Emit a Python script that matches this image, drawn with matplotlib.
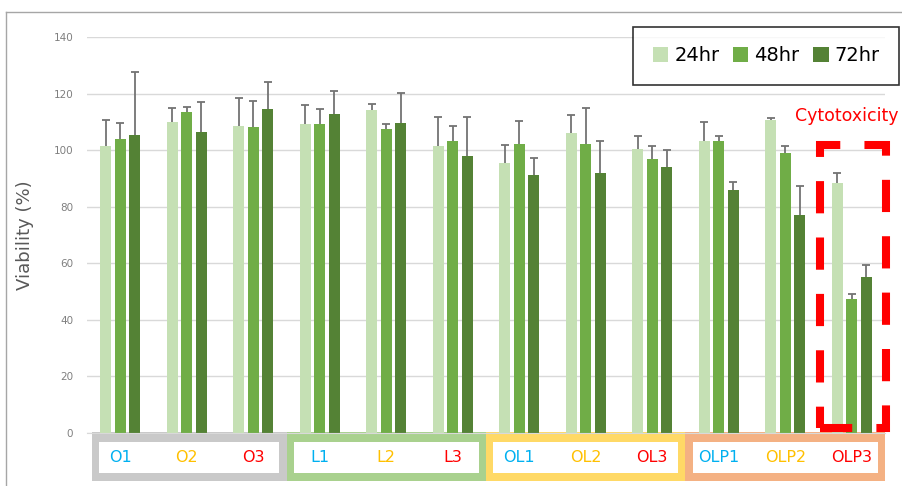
import numpy as np
import matplotlib.pyplot as plt
from matplotlib.patches import Rectangle
from matplotlib.lines import Line2D
import matplotlib.transforms as mtransforms

groups = ['O1', 'O2', 'O3', 'L1', 'L2', 'L3', 'OL1', 'OL2', 'OL3', 'OLP1', 'OLP2', 'OLP3']
label_colors = ['#00B0F0', '#FFC000', '#FF0000'] * 4
series = ['24hr', '48hr', '72hr']

v24 = [101.6, 109.8, 108.5, 109.2, 114.1, 101.6, 95.4, 106.2, 100.4, 103.3, 110.6, 88.4]
v48 = [104.0, 113.4, 108.2, 109.2, 107.6, 103.2, 102.0, 102.0, 97.0, 103.1, 99.0, 47.3]
v72 = [105.3, 106.5, 114.6, 112.8, 109.7, 98.0, 91.1, 92.0, 94.0, 86.0, 77.1, 55.3]

e24 = [9.2, 5.2, 9.8, 6.9, 2.1, 10.2, 6.3, 6.3, 4.7, 6.5, 0.6, 3.6]
e48 = [5.5, 2.0, 9.3, 5.3, 1.5, 5.3, 8.2, 13.0, 4.6, 1.9, 2.3, 1.9]
e72 = [22.3, 10.6, 9.6, 8.0, 10.5, 13.7, 6.2, 11.1, 5.9, 2.8, 10.2, 4.2]

box_colors = ['#C9C9C9', '#A9D18E', '#FFD966', '#F4B183']
bar_colors = ['#C5E0B4', '#70AD47', '#548235']

fig = plt.figure(figsize=(9.02, 4.86), dpi=100)
ax = fig.add_axes([87 / 902, 1 - 433 / 486, 798 / 902, 396 / 486])

x = np.arange(len(groups))
w = 0.17
step = 0.218
for i, (vals, errs) in enumerate(zip([v24, v48, v72], [e24, e48, e72])):
    pos = x + (i - 1) * step
    ax.bar(pos, vals, width=w, color=bar_colors[i], label=series[i], zorder=2)
    eb = ax.errorbar(pos, vals, yerr=[np.zeros(len(errs)), errs], fmt='none',
                     ecolor='#737373', elinewidth=1.3, capsize=3, capthick=1.3, zorder=3)
    eb[1][0].set_visible(False)  # only the upper cap

ax.set_xlim(-0.5, len(groups) - 0.5)
ax.set_ylim(0, 140)
ax.set_yticks(range(0, 141, 20))
ax.yaxis.grid(True, color='#D9D9D9', lw=1)
ax.set_axisbelow(True)
ax.set_xticks([])
for s in ['top', 'right', 'left']:
    ax.spines[s].set_visible(False)
ax.spines['bottom'].set_color('#D9D9D9')
ax.tick_params(axis='y', length=0, labelsize=7.5, labelcolor='#7F7F7F', pad=10)
ax.set_ylabel('Viability (%)', fontsize=13, color='#595959', labelpad=14)

# group label boxes under the axis
trans = mtransforms.blended_transform_factory(ax.transData, ax.transAxes)
for k in range(4):
    x0 = 3 * k - 0.5 + (0.07 if k == 0 else 0)
    x1 = 3 * k + 2.5
    ax.add_patch(Rectangle((x0, -0.121), x1 - x0, 0.123, transform=trans,
                           facecolor=box_colors[k], edgecolor='none', clip_on=False))
    ax.add_patch(Rectangle((x0 + 0.11, -0.101), x1 - x0 - 0.22, 0.078, transform=trans,
                           facecolor='white', edgecolor='none', clip_on=False))
for i, g in enumerate(groups):
    ax.text(i, -0.062, g, transform=trans, ha='center', va='center',
            fontsize=11.5, color=label_colors[i])

# cytotoxicity highlight
ax.add_patch(Rectangle((10.52, 1.8), 1.0, 100.0, fill=False, edgecolor='#FF0000',
                       lw=5.8, linestyle=(0, (4, 3)), zorder=4, clip_on=False))
ax.text(10.93, 112, 'Cytotoxicity', ha='center', va='center', fontsize=12.5, color='#FF0000')

leg = fig.legend(loc='upper right', bbox_to_anchor=(899 / 902, 1 - 27 / 486), ncol=3,
                 fontsize=14, frameon=True, fancybox=False, handlelength=0.8,
                 handleheight=0.8, handletextpad=0.3, columnspacing=0.7,
                 borderpad=1.0, borderaxespad=0)
leg.get_frame().set_edgecolor('black')
leg.get_frame().set_linewidth(1.2)

# outer chart border (cropped)
fig.add_artist(Line2D([6 / 902, 1], [1 - 12 / 486, 1 - 12 / 486], transform=fig.transFigure,
                      color='#A6A6A6', lw=1))
fig.add_artist(Line2D([6 / 902, 6 / 902], [0, 1 - 12 / 486], transform=fig.transFigure,
                      color='#A6A6A6', lw=1))

plt.savefig('out.png', dpi=100)
